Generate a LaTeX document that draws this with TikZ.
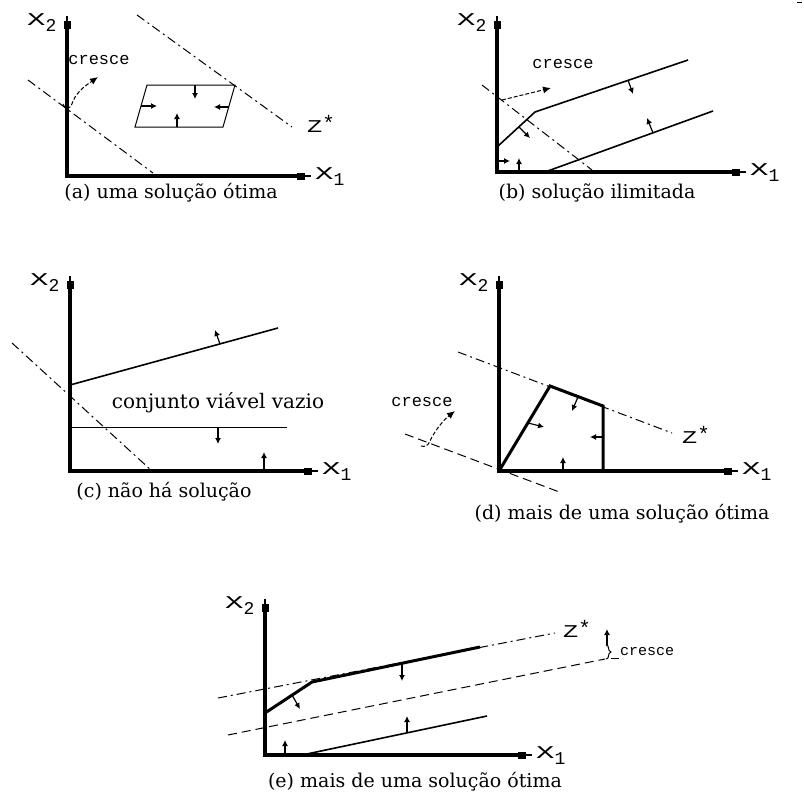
\documentclass[tikz,border=0pt]{standalone}
\usepackage{graphicx}
\usepackage{fontspec}
\newfontfamily\capfont{DejaVu Serif}
\newfontfamily\monofont{Liberation Mono}
\usetikzlibrary{arrows.meta}
\tikzset{
 axisline/.style={line width=3.5pt, line join=miter},
 axistip/.style={line width=1.2pt},
 thinb/.style={line width=1pt},
 medb/.style={line width=1.6pt},
 thickb/.style={line width=3pt, line join=miter},
 dashdot/.style={line width=1pt, dash pattern=on 9pt off 4pt on 2pt off 4pt},
 longdash/.style={line width=1pt, dash pattern=on 9pt off 5pt},
 sarrow/.style={line width=1.2pt, -{Latex[length=6pt,width=6pt]}},
 growarrow/.style={line width=1pt, dash pattern=on 4pt off 2pt, -{Latex[length=8pt,width=7pt]}},
 caption/.style={inner sep=0pt, font=\capfont\fontsize{19}{22}\selectfont},
 crescetxt/.style={inner sep=0pt, font=\monofont\fontsize{17}{20}\selectfont},
 axlabel/.style={inner sep=0pt, anchor=base west, font=\monofont\fontsize{18}{20}\selectfont},
}
\newcommand\drawaxes[5]{%
 \coordinate (#1o) at (#2,#3);
 \coordinate (#1y) at (#2,#5);
 \coordinate (#1x) at (#4,#3);
 \coordinate (#1yt) at (#2,#5-9);
 \coordinate (#1xt) at (#4+10,#3);
 \draw[axisline] (#1y) -- (#1o) -- (#1x);
 \draw[axistip] (#1y) -- (#1yt);
 \draw[axistip] (#1x) -- (#1xt);
 \fill (#2-3.5,#5-4) rectangle (#2+3.5,#5+4);
 \fill (#4-4,#3-3.5) rectangle (#4+4,#3+3.5);
 \node[axlabel] (#1lab2) at (#2-40,#5) {\scalebox{1.7}[1]{X}\raisebox{-6pt}{\fontsize{18}{20}\selectfont 2}};
 \node[axlabel] (#1lab1) at (#4+14,#3+3) {\scalebox{1.7}[1]{X}\raisebox{-6pt}{\fontsize{18}{20}\selectfont 1}};
}
\newcommand\zstar{\scalebox{1.4}[1]{Z}\raisebox{2pt}{\fontsize{21}{21}\selectfont *}}
\begin{document}
\begin{tikzpicture}[x=1pt,y=-1pt]
\useasboundingbox[fill=white] (0,0) rectangle (804,798);
\draw[line width=1pt] (797,2.5) -- (802,2.5);

% ---------------- (a)
\drawaxes{a}{67}{176}{301}{25}
\draw[dashdot] (28,80) -- (153,173);
\draw[dashdot] (137,15) -- (292,127);
\coordinate (p1) at (147,85); \coordinate (p2) at (235,85);
\coordinate (p3) at (223,127); \coordinate (p4) at (135,127);
\draw[thinb] (p1) -- (p2) -- (p3) -- (p4) -- cycle;
\draw[sarrow] (195,85) -- (195,99);
\draw[sarrow] (177,127) -- (177,113);
\draw[sarrow] (141,106) -- (157,106);
\draw[sarrow] (229,107) -- (214,107);
\node[axlabel] (za) at (307,132) {\zstar};
\node[crescetxt] (ca) at (99,60) {cresce};
\draw[growarrow] (63,104) .. controls (65,110) and (70,111) .. (73,101) .. controls (78,90) and (88,84) .. (98,77);
\node[caption] (capa) at (171,193) {(a) uma solução ótima};

% ---------------- (b)
\drawaxes{b}{497}{172}{736}{25}
\draw[dashdot] (482,85) -- (592,170);
\coordinate (b1) at (497,147); \coordinate (b2) at (535,112); \coordinate (b3) at (688,60);
\draw[medb] (b1) -- (b2) -- (b3);
\draw[medb] (545,172) -- (713,111);
\draw[sarrow] (628,80) -- (633,94);
\draw[sarrow] (519,127) -- (530,138);
\draw[sarrow] (653,133) -- (647,118);
\draw[sarrow] (497,161) -- (510,161);
\draw[sarrow] (519,172) -- (519,158);
\node[crescetxt] (cb) at (563,64) {cresce};
\draw[growarrow] (502,100) -- (551,88);
\node[caption] (capb) at (597,193) {(b) solução ilimitada};

% ---------------- (c)
\drawaxes{c}{70}{471}{308}{285}
\draw[dashdot] (12,343) -- (152,471);
\draw[medb] (70,385) -- (278,328);
\draw[thinb] (70,427) -- (287,427);
\draw[sarrow] (220,344) -- (215,330);
\draw[sarrow] (218,427) -- (218,444);
\draw[sarrow] (264,471) -- (264,452);
\node[inner sep=0pt, font=\capfont\fontsize{20}{22}\selectfont] (cv) at (218,403) {conjunto viável vazio};
\node[caption] (capc) at (164,492) {(c) não há solução};

% ---------------- (d)
\drawaxes{d}{499}{471}{728}{285}
\draw[dashdot] (458,352) -- (672,433);
\draw[longdash] (405,434) -- (562,493);
\coordinate (d1) at (550,386); \coordinate (d2) at (603,406); \coordinate (d3) at (603,471);
\draw[thickb] (do) -- (d1) -- (d2) -- (d3);
\draw[sarrow] (528,423) -- (544,427);
\draw[sarrow] (578,397) -- (572,411);
\draw[sarrow] (603,437) -- (590,437);
\draw[sarrow] (563,471) -- (563,457);
\node[axlabel] (zd) at (682,443) {\zstar};
\node[crescetxt] (cd) at (422,402) {cresce};
\draw[growarrow] (421,446) .. controls (425,447) and (428,446) .. (430,441) .. controls (436,428) and (446,418) .. (455,411);
\node[caption] (capd) at (622,514) {(d) mais de uma solução ótima};

% ---------------- (e)
\drawaxes{e}{265}{755}{522}{608}
\draw[dashdot] (218,698) -- (555,633);
\draw[longdash] (228,735) -- (605,659);
\coordinate (e1) at (265,713); \coordinate (e2) at (312,682); \coordinate (e3) at (480,647);
\draw[thickb] (e1) -- (e2) -- (e3);
\draw[medb] (302,755) -- (487,716);
\draw[sarrow] (292,695) -- (300,709);
\draw[sarrow] (402,663) -- (402,681);
\draw[sarrow] (407,733) -- (407,716);
\draw[sarrow] (285,755) -- (285,740);
\node[axlabel] (ze) at (563,637) {\zstar};
\draw[sarrow] (607,645) -- (607,629);
\draw[thinb] (606,645) .. controls (610,645) and (607,651) .. (611,652) .. controls (607,653) and (610,659) .. (606,659);
\draw[thinb] (611,658) -- (619,658);
\node[crescetxt, font=\monofont\fontsize{15}{18}\selectfont] (ce) at (647,652) {cresce};
\node[caption] (cape) at (415,782) {(e) mais de uma solução ótima};
\end{tikzpicture}
\end{document}
